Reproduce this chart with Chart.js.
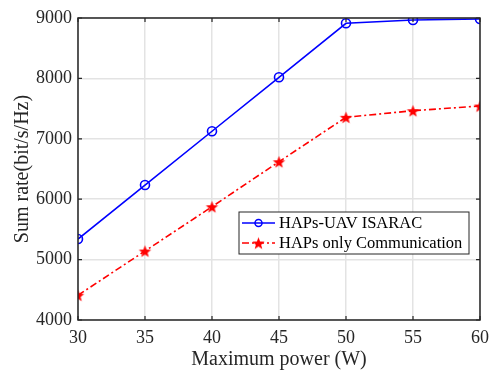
<!DOCTYPE html>
<html>
<head>
<meta charset="utf-8">
<script src="https://cdn.jsdelivr.net/npm/chart.js@4.4.0/dist/chart.umd.min.js"></script>
<style>
  html, body { margin: 0; padding: 0; background: #fff; }
  #wrap { width: 492px; height: 370px; }
</style>
</head>
<body>
<div id="wrap"><canvas id="rateChart" width="492" height="370"></canvas></div>
<script>
// data
const powerW = [30, 35, 40, 45, 50, 55, 60];
const isaracRate = [5340, 6235, 7125, 8018, 8912, 8967, 8983];
const commOnlyRate = [4410, 5142, 5876, 6621, 7356, 7465, 7543];
const xTicks = [30, 35, 40, 45, 50, 55, 60];
const yTicks = [4000, 5000, 6000, 7000, 8000, 9000];
const seriesNames = ['HAPs-UAV ISARAC', 'HAPs only Communication'];

const FONT = 'Liberation Serif, Times New Roman, serif';
const AXIS = '#262626';

// filled pentagram marker (matlab style)
function makeStar(r, color) {
    const c = document.createElement('canvas');
    const s = Math.ceil(r * 2 + 2);
    c.width = s; c.height = s;
    const g = c.getContext('2d');
    g.translate(s / 2, s / 2 + 0.8);
    g.beginPath();
    for (let i = 0; i < 10; i++) {
        const rad = i % 2 === 0 ? r : r * 0.42;
        const a = -Math.PI / 2 + i * Math.PI / 5;
        g.lineTo(rad * Math.cos(a), rad * Math.sin(a));
    }
    g.closePath();
    g.fillStyle = color;
    g.fill();
    return c;
}
const starImg = makeStar(6.5, '#ff0000');

// box, inward ticks and legend
const matlabAxes = {
    id: 'matlabAxes',
    afterDraw(chart) {
        const { ctx, chartArea: a, scales } = chart;
        ctx.save();
        ctx.strokeStyle = AXIS;
        ctx.lineWidth = 1.5;
        ctx.strokeRect(a.left, a.top, a.right - a.left, a.bottom - a.top);
        ctx.lineWidth = 1.2;
        ctx.beginPath();
        xTicks.forEach(v => {
            const x = scales.x.getPixelForValue(v);
            ctx.moveTo(x, a.bottom); ctx.lineTo(x, a.bottom - 4);
            ctx.moveTo(x, a.top); ctx.lineTo(x, a.top + 4);
        });
        yTicks.forEach(v => {
            const y = scales.y.getPixelForValue(v);
            ctx.moveTo(a.left, y); ctx.lineTo(a.left + 4, y);
            ctx.moveTo(a.right, y); ctx.lineTo(a.right - 4, y);
        });
        ctx.stroke();

        // legend box
        const bx = 239, by = 212, bw = 230, bh = 42;
        ctx.fillStyle = '#fff';
        ctx.fillRect(bx, by, bw, bh);
        ctx.strokeStyle = AXIS;
        ctx.lineWidth = 1;
        ctx.strokeRect(bx, by, bw, bh);
        ctx.font = '16.5px ' + FONT;
        ctx.textBaseline = 'middle';
        const rows = [by + 11, by + 31];
        chart.data.datasets.forEach((ds, i) => {
            const y = rows[i];
            ctx.strokeStyle = ds.borderColor;
            ctx.lineWidth = 1.5;
            ctx.setLineDash(ds.borderDash || []);
            ctx.beginPath();
            ctx.moveTo(bx + 3, y); ctx.lineTo(bx + 36, y);
            ctx.stroke();
            ctx.setLineDash([]);
            if (i === 0) {
                ctx.beginPath();
                ctx.arc(bx + 19.5, y, 3.5, 0, Math.PI * 2);
                ctx.stroke();
            } else {
                ctx.drawImage(starImg, bx + 19.5 - starImg.width / 2, y - starImg.height / 2);
            }
            ctx.fillStyle = '#000';
            ctx.fillText(seriesNames[i], bx + 40, y + 1);
        });
        ctx.restore();
    }
};

new Chart(document.getElementById('rateChart'), {
    type: 'line',
    data: {
        datasets: [
            {
                label: seriesNames[0],
                data: powerW.map((p, i) => ({ x: p, y: isaracRate[i] })),
                borderColor: '#0000ff',
                backgroundColor: 'rgba(0,0,0,0)',
                borderWidth: 1.6,
                pointStyle: 'circle',
                pointRadius: 4.5,
                pointBorderWidth: 1.6,
                pointBorderColor: '#0000ff',
                pointBackgroundColor: 'rgba(0,0,0,0)',
                tension: 0
            },
            {
                label: seriesNames[1],
                data: powerW.map((p, i) => ({ x: p, y: commOnlyRate[i] })),
                borderColor: '#ff0000',
                backgroundColor: '#ff0000',
                borderWidth: 1.6,
                borderDash: [7, 3, 2, 3],
                pointStyle: starImg,
                tension: 0
            }
        ]
    },
    options: {
        responsive: false,
        animation: false,
        layout: { padding: { top: 18, right: 12, left: 0, bottom: 0 } },
        plugins: { legend: { display: false }, tooltip: { enabled: false } },
        scales: {
            x: {
                type: 'linear',
                min: 30, max: 60,
                afterFit(s) { s.height = 50; s.paddingRight = 0; },
                afterBuildTicks(s) { s.ticks = xTicks.map(v => ({ value: v })); },
                grid: { color: '#e3e3e3', lineWidth: 1.5, drawTicks: false },
                border: { display: false },
                ticks: {
                    color: AXIS, padding: 7, font: { family: FONT, size: 18 },
                    callback: v => String(v)
                },
                title: {
                    display: true, text: 'Maximum power (W)', color: AXIS,
                    padding: { top: 0, bottom: -2 },
                    font: { family: FONT, size: 20 }
                }
            },
            y: {
                min: 4000, max: 9000,
                afterFit(s) { s.width = 78; },
                afterBuildTicks(s) { s.ticks = yTicks.map(v => ({ value: v })); },
                grid: { color: '#e3e3e3', lineWidth: 1.5, drawTicks: false },
                border: { display: false },
                ticks: {
                    color: AXIS, padding: 6, font: { family: FONT, size: 18 },
                    callback: v => String(v)
                },
                title: {
                    display: true, text: 'Sum rate(bit/s/Hz)', color: AXIS,
                    padding: { top: 11, bottom: 0 },
                    font: { family: FONT, size: 20 }
                }
            }
        }
    },
    plugins: [matlabAxes]
});
</script>
</body>
</html>
